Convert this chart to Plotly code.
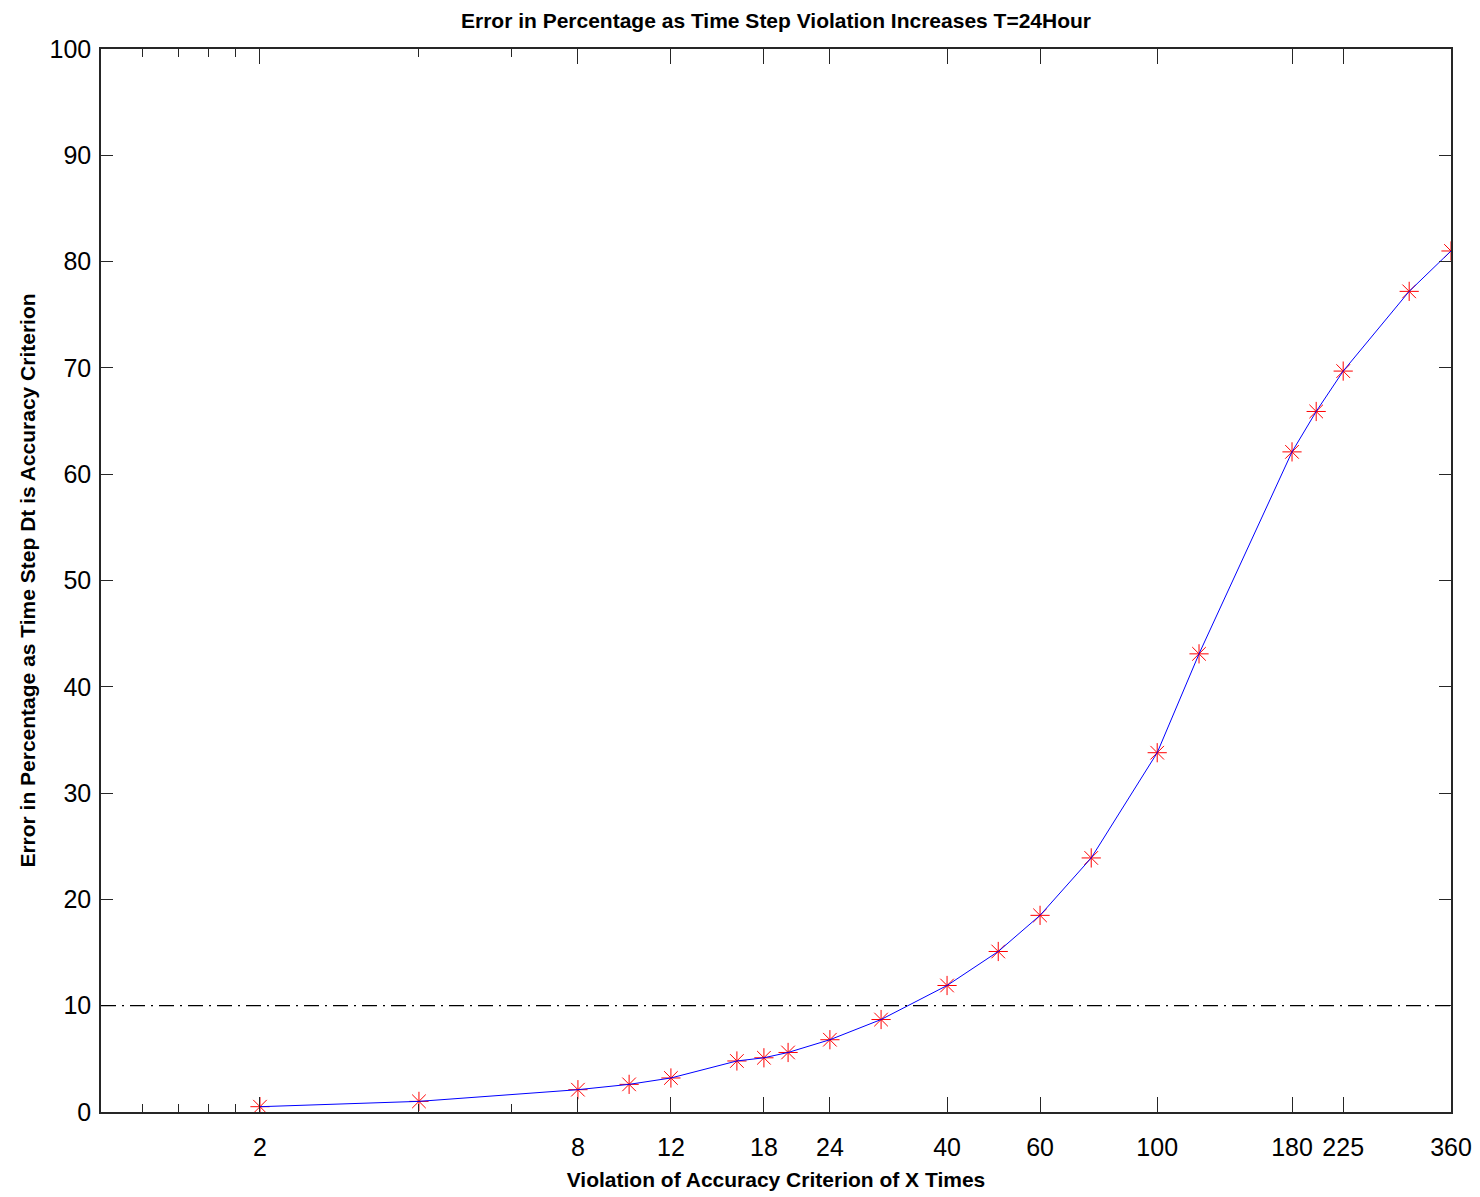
import plotly.graph_objects as go
import math

# Data
x_times = [2, 4, 8, 10, 12, 16, 18, 20, 24, 30, 40, 50, 60, 75, 100, 120, 180, 200, 225, 300, 360]
error_pct = [0.5, 1.0, 2.1, 2.6, 3.2, 4.8, 5.1, 5.6, 6.8, 8.7, 11.9, 15.1, 18.5, 23.9, 33.8, 43.1, 62.1, 65.9, 69.7, 77.2, 81.0]
threshold = 10

x_tickvals = [2, 8, 12, 18, 24, 40, 60, 100, 180, 225, 360]
x_ticktext = ["2", "8", "12", "18", "24", "40", "60", "100", "180", "225", "360"]
x_minor_ticks = [1.2, 1.4, 1.6, 1.8, 4, 6]
y_tickvals = [0, 10, 20, 30, 40, 50, 60, 70, 80, 90, 100]
x_limits = [1, 360]
y_limits = [0, 100]

fig = go.Figure()

fig.add_trace(go.Scatter(
    x=x_times, y=error_pct, mode="markers",
    marker=dict(symbol="asterisk-open", size=16, color="#FF0000",
                line=dict(color="#FF0000", width=1)),
    showlegend=False))
fig.add_trace(go.Scatter(
    x=x_times, y=error_pct, mode="lines",
    line=dict(color="#0000FF", width=1), showlegend=False, hoverinfo="skip"))

fig.add_shape(type="line", xref="paper", yref="y", x0=0, x1=1, y0=threshold, y1=threshold,
              line=dict(color="black", width=1.2, dash="15px,6px,2px,6px"))

font_family = "Liberation Sans, Arial, sans-serif"

fig.update_layout(
    width=1480, height=1197,
    margin=dict(l=101, r=29, t=49, b=85),
    paper_bgcolor="white", plot_bgcolor="white",
    title=dict(text="<b>Error in Percentage as Time Step Violation Increases T=24Hour</b>",
               x=(101 + 1451) / 2 / 1480, xanchor="center", y=1 - 21 / 1197, yanchor="middle",
               font=dict(family=font_family, size=21, color="black")),
    font=dict(family=font_family, color="black"),
)

fig.update_xaxes(
    type="log", range=[math.log10(x_limits[0]), math.log10(x_limits[1])],
    tickmode="array", tickvals=x_tickvals, ticktext=x_ticktext,
    ticks="inside", ticklen=15, tickwidth=1, tickcolor="#262626",
    minor=dict(tickmode="array", tickvals=x_minor_ticks, ticks="inside", ticklen=8,
               tickwidth=1, tickcolor="#262626", showgrid=False),
    showline=True, linecolor="#262626", linewidth=1.5, mirror="ticks",
    showgrid=False, zeroline=False, ticklabelstandoff=12, automargin=False,
    tickfont=dict(family=font_family, size=25, color="black"),
    title=dict(text="<b>Violation of Accuracy Criterion of X Times</b>", standoff=13,
               font=dict(family=font_family, size=21, color="black")),
)
fig.update_yaxes(
    range=y_limits, tickmode="array", tickvals=y_tickvals,
    ticks="inside", ticklen=12, tickwidth=1, tickcolor="#262626",
    showline=True, linecolor="#262626", linewidth=1.5, mirror="ticks",
    showgrid=False, zeroline=False, ticklabelstandoff=3, automargin=False,
    tickfont=dict(family=font_family, size=25, color="black"),
    title=dict(text="<b>Error in Percentage as Time Step Dt is Accuracy Criterion</b>", standoff=8,
               font=dict(family=font_family, size=21, color="black")),
)

fig.write_html("out.html")
